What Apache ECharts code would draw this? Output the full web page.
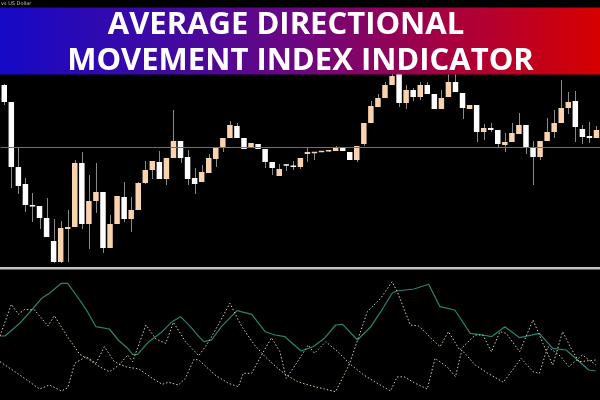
<!DOCTYPE html>
<html>
<head>
<meta charset="utf-8">
<script src="https://cdn.jsdelivr.net/npm/echarts@6/dist/echarts.min.js"></script>
<style>html,body{margin:0;padding:0;background:#000;}#c{width:600px;height:400px;}</style>
</head>
<body>
<div id="c"></div>
<script>
// Price panel (arbitrary price units), one entry per bar
const openV  = [183,166,101,84,63,62,50,27,6,39,41,105,44,67,76,20,44,71,49,58,85,98,106,89,110,127,111,90,86,95,109,121,130,142,130,120,124,119,106,92,103.5,102.5,101,114,115,116,116.5,117,120,116,108,124,145,161,170,183,194,165,178,171,183,174,159,171,186,175,159,163,136,140,138,123,126,134,143,120,111,127,136,145,160,167,139,132,130];
const closeV = [166,101,82,63,61.5,50,31,6,40,41,105,44,67,76,20,44,72,49,58,85,98,107,89,110,127,110,89,84,96,110,121,130,143,130,119,125,119,106,100,99,102.5,101,110,116,116,117,118,120,117,108,122,145,162,170,183,192,165,178,171,183,174,159,170,186,176,160,163,136,140,138,124,126,135,143,120,111,127,136,145,160,166,141,131,130,138];
const highV  = [184,166,120,90,75,62,70,49,47,58,108,116,93,105,76,53,72,86,71,86,107,107,117,110,158,127,118,100,103,114,121,130,147,145,130,125,124,119,106,104,104,107,110,120,116,117,118,122,120,116,122,145,167,174,186,196,198,183,180,186,186,174,178,198,200,175,163,163,144,145,138,135,145,155,143,127,127,150,158,188,176,177,143,146,142];
const lowV   = [163,80,74,56,46,39,31,5,5,6,41,39,19,55,15,20,44,46,36,58,84,89,89,83,110,105,83,74,86,95,101,116,130,130,119,120,119,100,93,92,97,98,99,106,108,116,116,117,117,108,106,122,145,161,170,183,161,159,167,168,174,159,159,171,176,149,159,126,128,136,121,116,126,134,114,83,108,127,130,145,154,126,124,125,130];
const levelLine = 121;

// ADX panel: traced vertices, x = bar position, v = indicator value
const adxX = [-0.6,0.1,2.2,3.9,5.3,6.4,8.1,9.0,10.7,11.8,13.0,14.9,16.3,17.5,18.2,18.9,20.5,22.4,23.8,25.0,26.4,27.6,28.3,29.4,30.8,33.0,35.1,37.0,38.4,39.8,42.1,43.8,45.4,47.0,48.0,50.1,52.0,53.4,55.0,55.7,58.1,60.2,61.8,63.9,66.1,67.9,69.1,71.0,73.1,75.9,77.8,79.7,82.9,83.9];
const adxV = [64,64,76.7,90,101.7,106.7,116.7,116.7,100,88.3,73.3,71,59,51.7,45.7,45.7,58.3,68.3,78.3,83.3,73.3,63.3,58.3,60,73.3,89.3,85.7,68.3,65,63.3,49,53.3,61.7,75,75.7,60,73.3,88.3,106.7,109,111,115.7,93.3,90,66.7,65,63.3,73.3,62.3,66.7,51.7,50,30,29];
const diAX = [-0.6,1.0,2.0,2.9,4.3,6.2,7.1,8.8,10.7,12.1,13.5,14.9,16.3,17.5,18.2,20.1,21.5,22.9,24.0,25.7,27.6,29.0,30.6,32.0,33.7,35.5,37.0,38.8,40.0,41.6,43.5,45.4,47.0,48.9,51.5,53.4,55.0,55.7,57.6,58.8,61.8,63.0,64.6,66.8,67.9,69.1,70.3,71.2,73.1,75.0,76.4,77.8,79.2,80.4,81.5,83.9];
const diAV = [64,95.7,85.7,90.7,90,74,84.3,65,45.7,40,33.3,28.3,35,45,38.3,75,61,56.7,77.7,58.3,44.3,58.3,78.3,96.7,73.3,55,43.3,31.7,25,18.3,14.3,11,8.3,35,88.3,101.7,118.3,109,75,74,53.3,68.3,50,65,65,48.3,68.3,66.7,48.3,80,56.7,35,68.3,51.7,38.3,40];
const diBX = [-0.6,2.2,5.0,6.4,8.1,9.0,10.0,11.6,13.0,14.2,15.6,17.2,19.1,21.0,22.4,23.3,24.7,25.7,26.9,27.6,29.9,31.8,33.2,33.9,35.1,36.5,37.9,39.1,40.0,41.6,43.1,44.0,45.6,47.3,49.2,51.0,52.9,54.8,55.7,56.7,58.3,60.0,61.1,62.8,64.0,64.9,66.8,68.6,70.8,73.3,75.0,75.9,77.1,78.7,80.1,82.0,83.9];
const diBV = [38.3,25,11,15,9,12.3,36.7,43.3,36.7,53.3,38.3,33.3,31,21.7,15.7,17.7,15,21.7,40.7,40,25,16.7,13.3,26.7,26.7,45,62.3,48.3,21.7,38.3,55,46.7,58.3,48.3,35,25,16.7,9,23,23.3,16.7,11,41.7,33.3,23.3,50,35,26.7,17.7,41.7,28.3,26.7,53.3,45,33.3,45,35];

const titleLine1 = 'AVERAGE DIRECTIONAL';
const titleLine2 = 'MOVEMENT INDEX INDICATOR';
const symbolLabel = 'vs US Dollar';

const bars = openV.map((_, i) => String(i));
const candleData = openV.map((o, i) => [i, o, closeV[i], lowV[i], highV[i]]);
const pair = (xs, vs) => xs.map((x, i) => [x, vs[i]]);

const chart = echarts.init(document.getElementById('c'), null, {renderer: 'canvas'});
const GL = 0.75, GW = 603.5;
chart.setOption({
  backgroundColor: '#000000',
  animation: false,
  grid: [
    {left: GL, width: GW, top: 0, height: 268},
    {left: GL, width: GW, top: 270, height: 130}
  ],
  xAxis: [
    {type: 'category', data: bars, gridIndex: 0, show: false, boundaryGap: true},
    {type: 'value', gridIndex: 1, min: -0.5, max: 84.5, show: false}
  ],
  yAxis: [
    {type: 'value', gridIndex: 0, min: 0, max: 268, show: false},
    {type: 'value', gridIndex: 1, min: 0, max: 130, show: false}
  ],
  series: [
    {
      type: 'custom', xAxisIndex: 0, yAxisIndex: 0,
      data: candleData,
      encode: {x: 0, y: [1, 2, 3, 4]},
      renderItem: function (params, api) {
        const i = api.value(0), o = api.value(1), c = api.value(2), l = api.value(3), h = api.value(4);
        const pO = api.coord([i, o]), pC = api.coord([i, c]);
        const pL = api.coord([i, l]), pH = api.coord([i, h]);
        const w = api.size([1, 0])[0] * 0.78;
        const xc = pO[0];
        const xw = Math.round(xc) + 0.5;
        let top = Math.min(pO[1], pC[1]);
        let hh = Math.abs(pO[1] - pC[1]);
        if (hh < 1.5) { top -= (1.5 - hh) / 2; hh = 1.5; }
        const bull = c > o;
        return {
          type: 'group',
          children: [
            {type: 'line', shape: {x1: xw, y1: pH[1], x2: xw, y2: pL[1]}, style: {stroke: '#8a8a8a', lineWidth: 1}},
            {type: 'rect', shape: {x: xc - w / 2, y: top, width: w, height: hh}, style: {fill: bull ? '#f9d2ae' : '#ffffff'}}
          ]
        };
      },
      markLine: {
        silent: true, symbol: 'none', label: {show: false},
        lineStyle: {color: '#707070', width: 1, type: 'solid'},
        data: [{yAxis: levelLine}]
      },
      z: 2
    },
    {
      type: 'line', xAxisIndex: 1, yAxisIndex: 1, data: pair(adxX, adxV),
      showSymbol: false, lineStyle: {color: '#2a8570', width: 1.2}, z: 3
    },
    {
      type: 'line', xAxisIndex: 1, yAxisIndex: 1, data: pair(diAX, diAV),
      showSymbol: false, lineStyle: {color: '#d2d2a8', width: 1, type: [1.5, 2]}, z: 3
    },
    {
      type: 'line', xAxisIndex: 1, yAxisIndex: 1, data: pair(diBX, diBV),
      showSymbol: false, lineStyle: {color: '#c8c8c8', width: 1, type: [1.5, 2]}, z: 3
    }
  ],
  graphic: [
    {type: 'rect', z: 100, shape: {x: 0, y: 267, width: 600, height: 2.5}, style: {fill: '#c2c2c2'}},
    {type: 'rect', z: 100, shape: {x: 0, y: 7.5, width: 600, height: 67},
      style: {fill: new echarts.graphic.LinearGradient(0, 0, 1, 0, [
        {offset: 0, color: '#1609c6'},
        {offset: 0.3, color: '#44099f'},
        {offset: 0.5, color: '#6d0680'},
        {offset: 0.75, color: '#a8003e'},
        {offset: 1, color: '#d60000'}
      ])}},
    {type: 'text', z: 101, x: 286, y: 25.5,
      style: {text: titleLine1, fill: '#ffffff', font: 'bold 31px "Open Sans"', align: 'center', verticalAlign: 'middle'}},
    {type: 'text', z: 101, x: 300.5, y: 61.5,
      style: {text: titleLine2, fill: '#ffffff', font: 'bold 31px "Open Sans"', align: 'center', verticalAlign: 'middle'}},
    {type: 'text', z: 101, x: 1, y: 4,
      style: {text: symbolLabel, fill: '#bbbbbb', font: '5px "DejaVu Sans"', align: 'left', verticalAlign: 'middle'}}
  ]
});
</script>
</body>
</html>
